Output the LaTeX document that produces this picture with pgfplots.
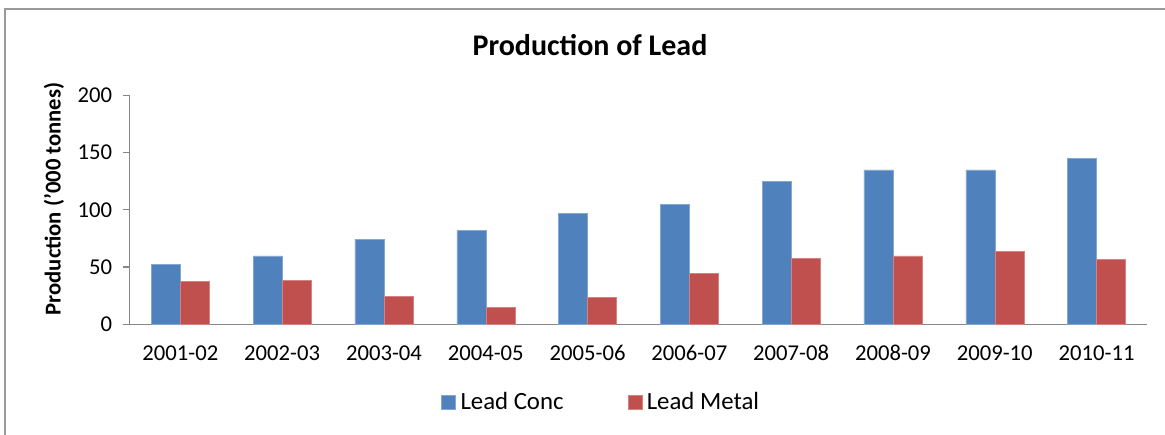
\documentclass[border=0pt]{standalone}
\usepackage{pgfplots}
\pgfplotsset{compat=1.18}
\usepackage{fontspec}
\setmainfont{Carlito}
\definecolor{concblue}{HTML}{4F81BD}
\definecolor{metalred}{HTML}{C0504D}
\definecolor{axgray}{HTML}{868686}
\definecolor{framegray}{HTML}{9A9A9A}
\begin{document}
\begin{tikzpicture}[x=1pt,y=1pt]
\path[use as bounding box] (0,0) rectangle (873.75,326.25);
\draw[framegray,line width=1.2pt] (3.6,0) -- (3.6,319.3) -- (873.75,319.3);
\node[anchor=base,font=\fontsize{22.5}{27}\selectfont\bfseries] at (442.5,284.5) {Production of Lead};
\node[rotate=90,font=\fontsize{17}{20}\selectfont\bfseries] at (40.5,177) {Production ('000 tonnes)};
\begin{axis}[
  at={(97.1pt,83pt)}, anchor=south west,
  scale only axis, width=763.5pt, height=171.75pt,
  ybar=0pt, bar width=21.75pt,
  xmin=-0.5, xmax=9.5, ymin=0, ymax=200,
  axis lines=left, axis line style={-, axgray, line width=1pt},
  xtick={0,...,9},
  xticklabels={2001-02,2002-03,2003-04,2004-05,2005-06,2006-07,2007-08,2008-09,2009-10,2010-11},
  x tick style={draw=none},
  extra x ticks={-0.5,0.5,1.5,2.5,3.5,4.5,5.5,6.5,7.5,8.5,9.5},
  extra x tick labels={},
  extra x tick style={major tick length=5pt, tick align=outside, tick style={axgray, line width=1pt}, grid=none},
  ytick={0,50,100,150,200},
  y tick style={axgray, line width=1pt},
  tick align=outside, major tick length=5pt,
  ticklabel style={font=\fontsize{17}{20}\selectfont},
  xticklabel style={text height=11pt, text depth=2pt, inner sep=0pt, yshift=-11pt},
  yticklabel style={xshift=-4.5pt},
  /pgf/number format/assume math mode=true,
  legend columns=2,
  legend style={at={(0.4637,-0.339)}, anchor=center, draw=none, font=\fontsize{18.6}{22}\selectfont,
    /tikz/every odd column/.append style={column sep=1.5pt},
    /tikz/every even column/.append style={column sep=46pt}},
  legend image code/.code={\fill[#1] (0pt,-5.25pt) rectangle (10.5pt,5.25pt);},
]
\addplot[fill=concblue, draw=concblue!70!white, line width=0.4pt] coordinates {(0,52.4) (1,59.7) (2,74.5) (3,82.1) (4,96.9) (5,104.8) (6,124.9) (7,134.8) (8,134.8) (9,144.6)};
\addlegendentry{Lead Conc}
\addplot[fill=metalred, draw=metalred!70!white, line width=0.4pt] coordinates {(0,37.2) (1,38.7) (2,24.7) (3,14.5) (4,23.6) (5,44.8) (6,57.6) (7,59.7) (8,63.8) (9,57.0)};
\addlegendentry{Lead Metal}
\end{axis}
\end{tikzpicture}
\end{document}
